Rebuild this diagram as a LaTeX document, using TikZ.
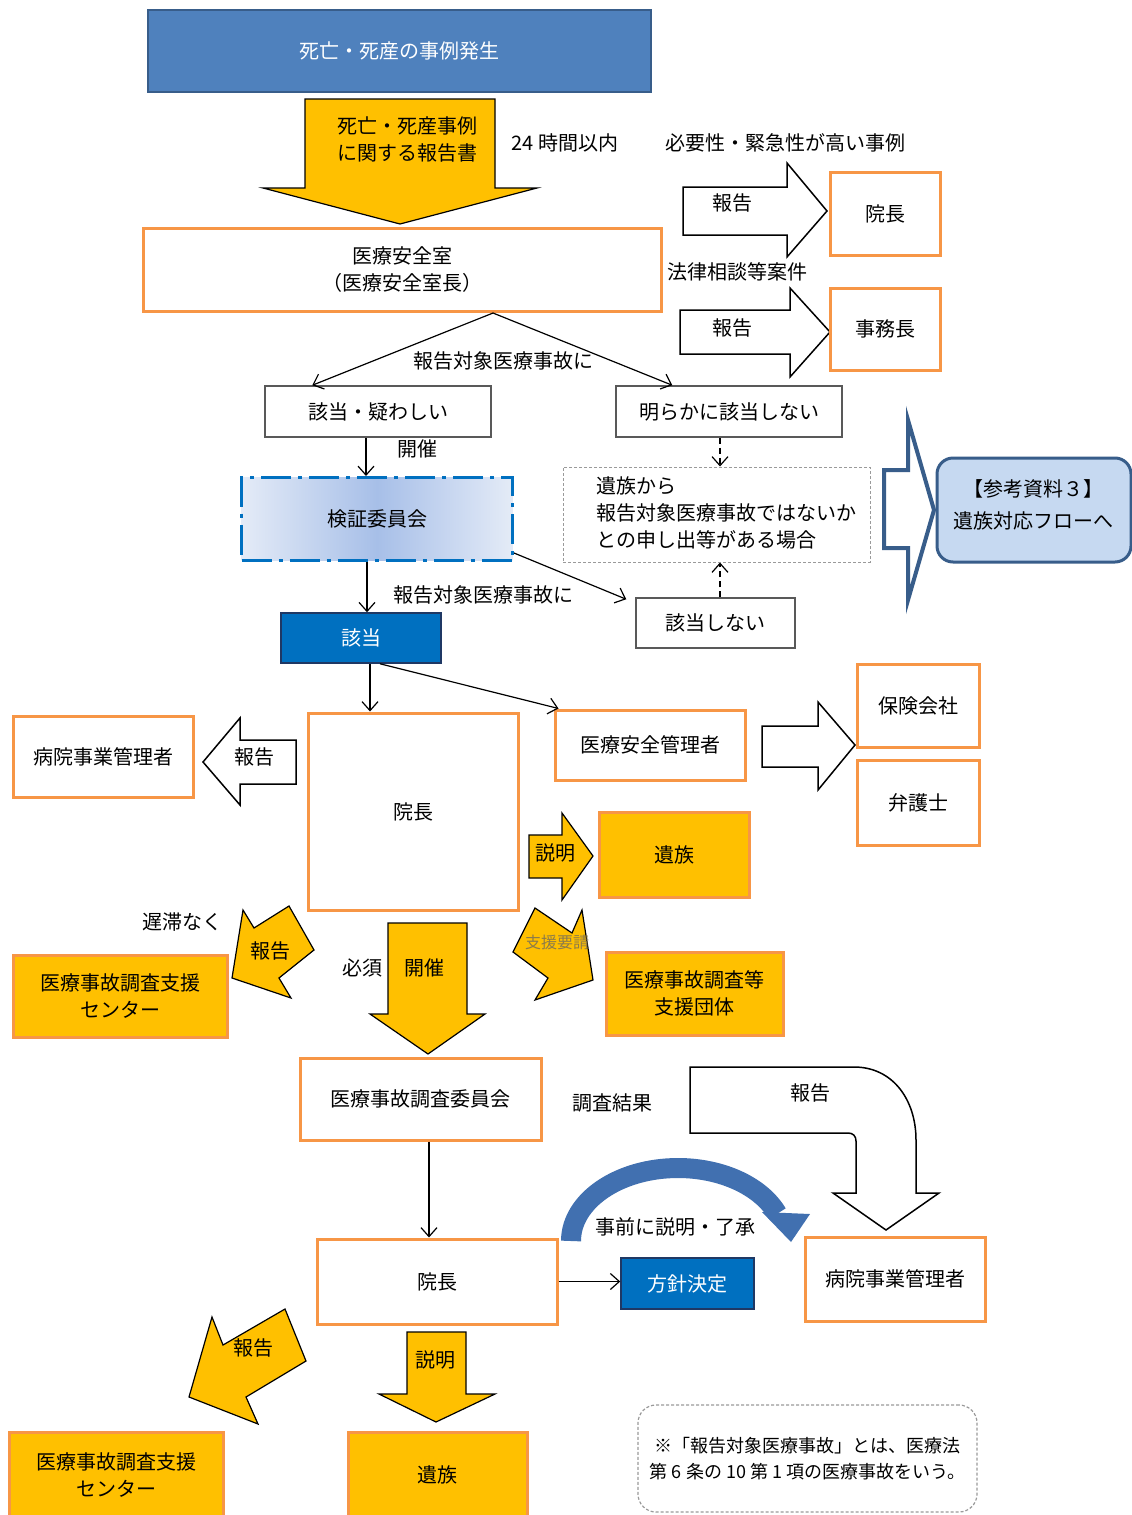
\documentclass[tikz,border=0pt]{standalone}
\usepackage{fontspec}
\setmainfont{Noto Sans CJK JP}
\usetikzlibrary{arrows.meta,calc}
\definecolor{orb}{HTML}{F79646}
\definecolor{yel}{HTML}{FFC000}
\definecolor{topb}{HTML}{4F81BD}
\definecolor{topbd}{HTML}{385D8A}
\definecolor{dblue}{HTML}{0070C0}
\definecolor{navy}{HTML}{1F3864}
\definecolor{kenL}{HTML}{E4EBF7}
\definecolor{kenM}{HTML}{A7BFE8}
\definecolor{sankoF}{HTML}{C6D9F1}
\definecolor{grayb}{HTML}{595959}
\definecolor{dotg}{HTML}{9A9A9A}
\definecolor{arcb}{HTML}{4170B0}
\definecolor{dimtx}{HTML}{8C7B4A}
\begin{document}
\begin{tikzpicture}[x=1pt,y=-1pt,
 every node/.style={font=\fontsize{20}{27}\selectfont, inner sep=0pt, align=center},
 obox/.style={draw=orb, line width=3pt, fill=white},
 ybox/.style={draw=orb, line width=3pt, fill=yel},
 gbox/.style={draw=grayb, line width=1.5pt, fill=white},
 bbox/.style={draw=navy, line width=1.5pt, fill=dblue, text=white},
 conn/.style={line width=1.2pt, -{Straight Barb[length=9pt,width=16pt,line width=1.2pt]}},
 dconn/.style={conn, dash pattern=on 6pt off 4pt},
 yarrow/.style={draw=black, line width=1.2pt, fill=yel, line join=miter},
 warrow/.style={draw=black, line width=1.5pt, fill=white, line join=miter}]
\useasboundingbox (0,0) rectangle (1132,1515);
\fill[white] (0,0) rectangle (1132,1515);

% ---------- top ----------
\node[draw=topbd, line width=2pt, fill=topb, text=white, minimum width=503pt, minimum height=82pt] (top) at (399,51) {死亡・死産の事例発生};
\draw[yarrow] (305,99) -- (495,99) -- (495,188) -- (537,188) -- (400,224) -- (263,188) -- (305,188) -- cycle;
\node (rep) at (407,139) {死亡・死産事例\\に関する報告書};
\node (h24) at (565,143) {24 時間以内};

\node[obox, minimum width=518pt, minimum height=83pt] (anzen) at (402,270) {医療安全室\\（医療安全室長）};

\node (hitsuyo) at (785,143) {必要性・緊急性が高い事例};
\draw[warrow] (683,187) -- (787,187) -- (787,163) -- (827,211) -- (787,257) -- (787,235) -- (683,235) -- cycle;
\node at (732,203) {報告};
\node[obox, minimum width=110pt, minimum height=83pt] (incho1) at (885,213.5) {院長};
\node (horitsu) at (737,272) {法律相談等案件};
\draw[warrow] (680,310) -- (790,310) -- (790,288) -- (830,332) -- (790,377) -- (790,354) -- (680,354) -- cycle;
\node at (732,328) {報告};
\node[obox, minimum width=110pt, minimum height=82pt] (jimu) at (885,329) {事務長};

% ---------- judgement ----------
\node[gbox, minimum width=226pt, minimum height=51pt] (gaito1) at (378,411.5) {該当・疑わしい};
\node[gbox, minimum width=226pt, minimum height=51pt] (akiraka) at (729,411.5) {明らかに該当しない};
\coordinate (apex) at ([xshift=91pt]anzen.south);
\draw[conn] (apex) -- ([xshift=48pt]gaito1.north west);
\draw[conn] (apex) -- ([xshift=57pt]akiraka.north west);
\node at (503,361) {報告対象医療事故に};

\node[draw=dblue, line width=3pt, dash pattern=on 30pt off 7pt on 4pt off 7pt,
      left color=kenL, right color=kenL, middle color=kenM,
      minimum width=271pt, minimum height=83pt] (kensho) at (377,519) {検証委員会};
\draw[conn] ([xshift=-12pt]gaito1.south) -- ([xshift=-11pt]kensho.north);
\node at (417,449) {開催};

\node[draw=dotg, line width=1pt, dash pattern=on 3pt off 2pt, minimum width=307pt, minimum height=95pt] (moshide) at (716.5,514.5) {};
\node[anchor=west, align=left] (moshidetx) at (596,513) {遺族から\\報告対象医療事故ではないか\\との申し出等がある場合};
\draw[dconn] ([xshift=-9pt]akiraka.south) -- ([xshift=3.5pt]moshide.north);

\node[gbox, minimum width=159pt, minimum height=50pt] (gaito2) at (715.5,623) {該当しない};
\draw[dconn] ([xshift=4.5pt]gaito2.north) -- ([xshift=3.5pt]moshide.south);
\draw[conn] ([yshift=-34pt]kensho.east) -- ([xshift=-9pt,yshift=-2pt]gaito2.north west);
\node at (483,595) {報告対象医療事故に};

\node[bbox, minimum width=160pt, minimum height=50pt] (gaito) at (361,638) {該当};
\draw[conn] ([xshift=-10pt]kensho.south) -- ([xshift=6pt]gaito.north);

% reference arrow and box
\draw[draw=topbd, line width=4pt, fill=white, line join=miter] (884,470) -- (908,470) -- (908,420) -- (934,510) -- (908,600) -- (908,548) -- (884,548) -- cycle;
\node[draw=topbd, line width=3pt, fill=sankoF, rounded corners=16pt, minimum width=194pt, minimum height=104pt] (sanko) at (1034,510) {};
\node (sankotx) at (1033,505) {【参考資料３】\\[5pt]遺族対応フローへ};

% ---------- director ----------
\node[obox, minimum width=210pt, minimum height=197pt] (incho2) at (413,811.5) {院長};
\draw[conn] ([xshift=9pt]gaito.south) -- ([xshift=-43pt]incho2.north);
\node[obox, minimum width=190pt, minimum height=70pt] (kanri) at (650,745) {医療安全管理者};
\draw[conn] ([xshift=19pt]gaito.south) -- ([xshift=5pt]kanri.north west);

\node[obox, minimum width=180pt, minimum height=81pt] (byoin1) at (103,756.5) {病院事業管理者};
\draw[warrow] (203,762) -- (240,718) -- (240,740) -- (296,740) -- (296,784) -- (240,784) -- (240,805) -- cycle;
\node at (254,757) {報告};

\draw[warrow] (762,726) -- (818,726) -- (818,702) -- (855,745) -- (818,790) -- (818,767) -- (762,767) -- cycle;
\node[obox, minimum width=122pt, minimum height=83pt] (hoken) at (918,705.5) {保険会社};
\node[obox, minimum width=122pt, minimum height=85pt] (bengo) at (918,802.5) {弁護士};

\draw[yarrow] (529,835) -- (562,835) -- (562,813) -- (593,856) -- (562,900) -- (562,878) -- (529,878) -- cycle;
\node at (555,853) {説明};
\node[ybox, minimum width=150pt, minimum height=85pt] (izoku1) at (674,854.5) {遺族};

\draw[yarrow] (535,908) -- (572,933) -- (582,910) -- (593,980) -- (535,1000) -- (548,978) -- (513,952) -- cycle;
\node[text=dimtx, font=\fontsize{16}{20}\selectfont] at (557,942) {支援要請};
\node[ybox, minimum width=177pt, minimum height=83pt] (dantai) at (694.5,993.5) {医療事故調査等\\支援団体};

\node at (182,922) {遅滞なく};
\draw[yarrow] (243,910) -- (254,928) -- (289,906) -- (314,950) -- (279,978) -- (291,998) -- (232,978) -- cycle;
\node at (270,951) {報告};
\node[ybox, minimum width=214pt, minimum height=82pt] (center1) at (120,996) {医療事故調査支援\\センター};

\draw[yarrow] (388,923) -- (467,923) -- (467,1014) -- (485,1014) -- (428,1054) -- (370,1014) -- (388,1014) -- cycle;
\node at (424,968) {開催};
\node at (362,968) {必須};

% ---------- investigation ----------
\node[obox, minimum width=241pt, minimum height=82pt] (iinkai) at (420.5,1099) {医療事故調査委員会};
\node at (612,1103) {調査結果};

\draw[warrow] (690,1067) -- (854,1067) .. controls (893,1067) and (916,1100) .. (916,1140) -- (916,1193) -- (939,1193) -- (886,1230) -- (833,1193) -- (856,1193) -- (856,1141) .. controls (856,1136) and (853,1133) .. (848,1133) -- (690,1133) -- cycle;
\node at (810,1093) {報告};

\node[obox, minimum width=240pt, minimum height=85pt] (incho3) at (437,1281.5) {院長};
\draw[conn] ([xshift=8.5pt]iinkai.south) -- ([xshift=-8pt]incho3.north);
\node[bbox, minimum width=133pt, minimum height=51pt] (hoshin) at (687.5,1283.5) {方針決定};
\draw[conn] (incho3.east) -- (incho3.east -| hoshin.west);
\node[obox, minimum width=180pt, minimum height=84pt] (byoin2) at (895,1279) {病院事業管理者};

\draw[arcb, line width=20pt] (571,1241) arc[start angle=180, end angle=338, x radius=107, y radius=73];
\fill[arcb] (762,1212) -- (810,1214) -- (791,1242) -- cycle;
\node at (675,1227) {事前に説明・了承};

\draw[yarrow] (212,1317) -- (223,1345) -- (285,1309) -- (306,1361) -- (246,1397) -- (258,1424) -- (189,1397) -- cycle;
\node at (253,1348) {報告};
\draw[yarrow] (407,1332) -- (466,1332) -- (466,1394) -- (495,1394) -- (436,1422) -- (379,1394) -- (407,1394) -- cycle;
\node at (435,1360) {説明};

\node[ybox, minimum width=214pt, minimum height=86pt] (center2) at (116,1475) {医療事故調査支援\\センター};
\node[ybox, minimum width=179pt, minimum height=86pt] (izoku2) at (437.5,1475) {遺族};

\node[draw=dotg, line width=1.2pt, dash pattern=on 3pt off 2pt, rounded corners=18pt, minimum width=339pt, minimum height=107pt, font=\fontsize{18}{26}\selectfont] (note) at (807.5,1458.5) {※「報告対象医療事故」とは、医療法\\第 6 条の 10 第 1 項の医療事故をいう。};
\end{tikzpicture}
\end{document}
